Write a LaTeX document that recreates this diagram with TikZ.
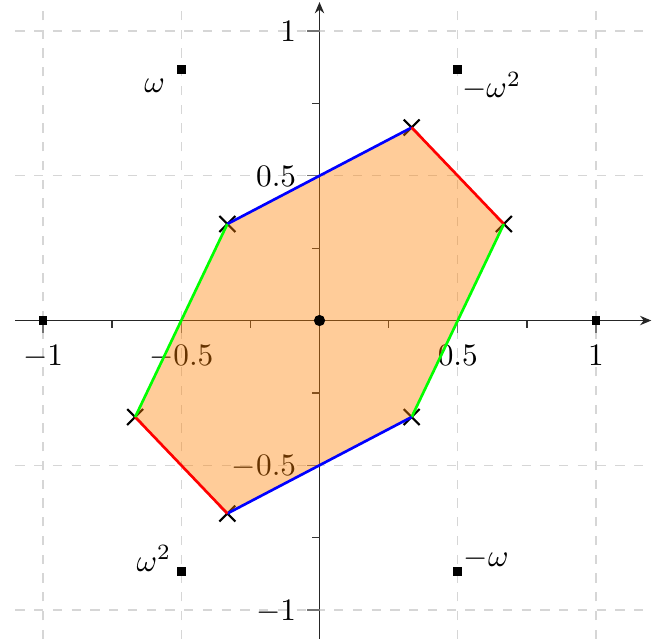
\documentclass[tikz,border=0pt]{standalone}
\usetikzlibrary{arrows.meta,shapes.misc}
\begin{document}
\begin{tikzpicture}[x=88.48pt,y=92.64pt,
  gridline/.style={black!16,line width=0.4pt,dashed},
  axisline/.style={black!85,line width=0.45pt,-{Stealth[length=3.6pt,width=3pt]}},
  majortick/.style={black!55,line width=0.4pt},
  minortick/.style={black!80,line width=0.4pt},
  ticklab/.style={inner sep=0pt},
  crossmark/.style={draw=black,cross out,line width=0.7pt,minimum size=4.4pt,inner sep=0pt},
  rootmark/.style={fill=black,inner sep=0pt,minimum size=2.8pt},
  edge/.style={line width=0.85pt}]
\useasboundingbox (-1.1555,-1.0967) rectangle (1.2495,1.1071);
% grid
\foreach \v in {-1,-0.5,0.5,1} {
  \draw[gridline] (\v,-1.1) -- (\v,1.1);
  \draw[gridline] (-1.1,\v) -- (1.2,\v);
}
% axes
\coordinate (xl) at (-1.1,0);
\coordinate (xr) at (1.2,0);
\coordinate (yb) at (0,-1.1);
\coordinate (yt) at (0,1.1);
\draw[axisline] (xl) -- (xr);
\draw[axisline] (yb) -- (yt);
% ticks
\foreach \v in {-1,-0.5,0.5,1} {
  \draw[majortick] (\v,0) -- ++(0,-3.85pt);
  \draw[majortick] (0,\v) -- ++(-3.85pt,0);
}
\foreach \v in {-0.75,-0.25,0.25,0.75} {
  \draw[minortick] (\v,0) -- ++(0,-2.25pt);
  \draw[minortick] (0,\v) -- ++(-2.25pt,0);
}
% tick labels
\node[ticklab,anchor=base,yshift=-14.24pt] (lxm1) at (-1,0) {$-1$};
\node[ticklab,anchor=base,yshift=-14.24pt] (lxm05) at (-0.5,0) {$-0.5$};
\node[ticklab,anchor=base,yshift=-14.24pt] (lx05) at (0.5,0) {$0.5$};
\node[ticklab,anchor=base,yshift=-14.24pt] (lx1) at (1,0) {$1$};
\node[ticklab,anchor=base east,xshift=-7.3pt,yshift=-3.4pt] (lym1) at (0,-1) {$-1$};
\node[ticklab,anchor=base east,xshift=-7.3pt,yshift=-3.4pt] (lym05) at (0,-0.5) {$-0.5$};
\node[ticklab,anchor=base east,xshift=-7.3pt,yshift=-3.4pt] (ly05) at (0,0.5) {$0.5$};
\node[ticklab,anchor=base east,xshift=-7.3pt,yshift=-3.4pt] (ly1) at (0,1) {$1$};
% hexagon vertices
\coordinate (A) at (-1/3,1/3);
\coordinate (B) at (1/3,2/3);
\coordinate (C) at (2/3,1/3);
\coordinate (D) at (1/3,-1/3);
\coordinate (E) at (-1/3,-2/3);
\coordinate (F) at (-2/3,-1/3);
\foreach \p in {A,B,C,D,E,F} {
  \node[crossmark] (x\p) at (\p) {};
}
\fill[orange,fill opacity=0.4] (A) -- (B) -- (C) -- (D) -- (E) -- (F) -- cycle;
\draw[edge,blue] (A) -- (B);
\draw[edge,red] (B) -- (C);
\draw[edge,green] (C) -- (D);
\draw[edge,blue] (D) -- (E);
\draw[edge,red] (E) -- (F);
\draw[edge,green] (F) -- (A);
% roots of unity
\node[rootmark] (rp1) at (1,0) {};
\node[rootmark] (rm1) at (-1,0) {};
\node[rootmark] (rw) at (-0.5,0.8660) {};
\node[rootmark] (rmw2) at (0.5,0.8660) {};
\node[rootmark] (rw2) at (-0.5,-0.8660) {};
\node[rootmark] (rmw) at (0.5,-0.8660) {};
\node[circle,fill=black,inner sep=0pt,minimum size=3.6pt] (o) at (0,0) {};
% root labels
\node[inner sep=0pt,anchor=base east,xshift=-5pt,yshift=-7.26pt] (tw) at (rw) {$\omega$};
\node[inner sep=0pt,anchor=base west,xshift=1.2pt,yshift=-8.86pt] (tmw2) at (rmw2) {$-\omega^2$};
\node[inner sep=0pt,anchor=base east,xshift=-3pt,yshift=0pt] (tw2) at (rw2) {$\omega^2$};
\node[inner sep=0pt,anchor=base west,xshift=1.7pt,yshift=1.44pt] (tmw) at (rmw) {$-\omega$};
\end{tikzpicture}
\end{document}
